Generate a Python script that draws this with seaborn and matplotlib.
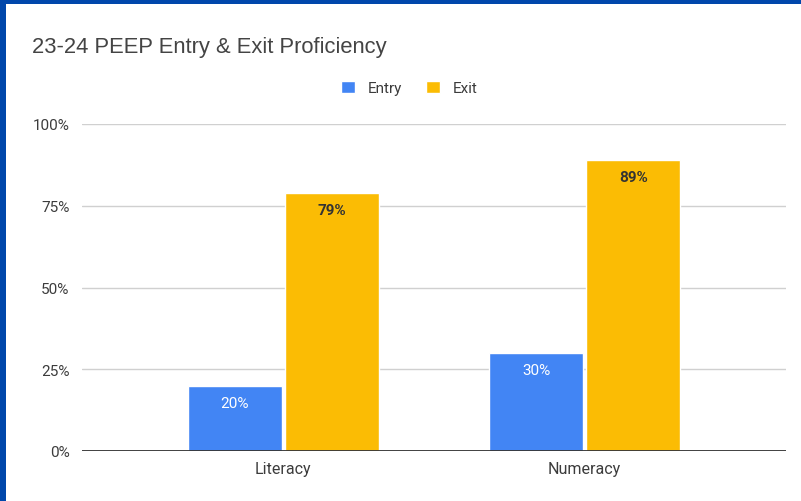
import pandas as pd
import seaborn as sns
import matplotlib.pyplot as plt
from matplotlib.patches import Rectangle
from matplotlib.ticker import PercentFormatter

categories = ["Literacy", "Numeracy"]
entry_values = [20, 30]
exit_values = [79, 89]
series_names = ["Entry", "Exit"]
y_ticks = [0, 25, 50, 75, 100]

palette = {"Entry": "#4285F4", "Exit": "#FBBC04"}
label_colors = {"Entry": "white", "Exit": "#333333"}

df = pd.DataFrame({
    "category": categories * 2,
    "series": ["Entry"] * len(categories) + ["Exit"] * len(categories),
    "value": entry_values + exit_values,
})

sns.set_style("white")
plt.rcParams["font.family"] = ["Roboto", "DejaVu Sans"]

fig = plt.figure(figsize=(8.01, 5.02), dpi=100)
fig.patch.set_facecolor("#0047AB")
# white card inside the blue frame, kept behind the axes
card = Rectangle((6 / 801, 0), 1 - 6 / 801, 1 - 5 / 502,
                 transform=fig.transFigure, facecolor="white",
                 edgecolor="none", zorder=-10)
fig.add_artist(card)

ax = fig.add_axes([82 / 801, 50 / 502, 704 / 801, 327 / 502])
ax.set_facecolor("white")

sns.barplot(data=df, x="category", y="value", hue="series",
            hue_order=series_names, palette=palette, width=0.645, gap=0.03,
            saturation=1, ax=ax, legend=True)

ax.set_xlim(-0.668, 1.668)
ax.set_ylim(0, 100)
ax.set_yticks(y_ticks)
ax.yaxis.set_major_formatter(PercentFormatter(decimals=0))
ax.grid(axis="y", color="#d0d0d0", linewidth=1)
ax.set_axisbelow(True)
ax.axhline(0, color="#333333", linewidth=1.3, zorder=3)
for s in ax.spines.values():
    s.set_visible(False)
ax.tick_params(axis="both", length=0, labelsize=11, colors="#3c3c3c")
ax.tick_params(axis="x", pad=7, labelsize=11.5)
ax.tick_params(axis="y", pad=9)
ax.set_xlabel("")
ax.set_ylabel("")

# value labels just inside bar tops
for container, name in zip(ax.containers, series_names):
    for bar in container:
        h = bar.get_height()
        ax.annotate(f"{h:.0f}%", (bar.get_x() + bar.get_width() / 2, h),
                    xytext=(0, -7.5), textcoords="offset points",
                    ha="center", va="top", fontsize=11,
                    fontweight="bold" if name == "Exit" else "normal",
                    color=label_colors[name])

ax.legend(loc="center", bbox_to_anchor=(0.511, 0.823),
          bbox_transform=fig.transFigure, ncol=2, frameon=False,
          handlelength=0.9, handleheight=0.9, handletextpad=0.8,
          columnspacing=1.6, fontsize=11, labelcolor="#3c3c3c")

fig.text(32 / 801, 1 - 47 / 502, "23-24 PEEP Entry & Exit Proficiency",
         fontsize=15.8, color="#444444", va="center", ha="left",
         family=["Liberation Sans", "DejaVu Sans"])

fig.savefig("out.png", dpi=100, facecolor=fig.get_facecolor())
